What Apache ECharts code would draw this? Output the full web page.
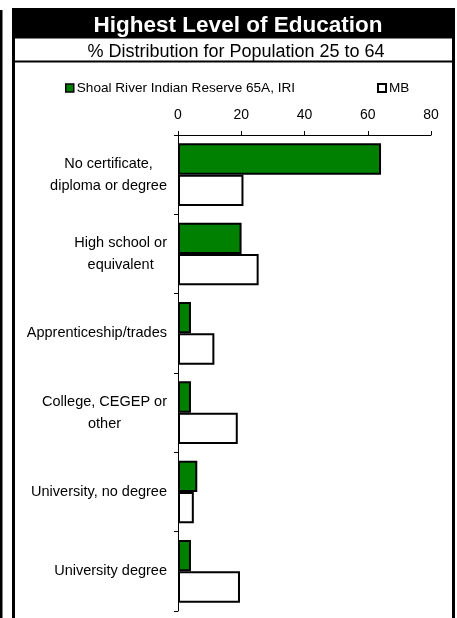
<!DOCTYPE html>
<html>
<head>
<meta charset="utf-8">
<script src="https://cdn.jsdelivr.net/npm/echarts@6/dist/echarts.min.js"></script>
<style>
html,body{margin:0;padding:0;background:#fff;}
#chart{width:457px;height:618px;}
</style>
</head>
<body>
<div id="chart"></div>
<script>
const categories = [
  "No certificate,\ndiploma or degree",
  "High school or\nequivalent",
  "Apprenticeship/trades",
  "College, CEGEP or\nother",
  "University, no degree",
  "University degree"
];
const reserveValues = [64.2, 20.1, 4.1, 4.1, 6.1, 4.1];
const mbValues = [20.7, 25.5, 11.5, 18.9, 5.0, 19.6];
const xTicks = [0, 20, 40, 60, 80];
const seriesNames = ["Shoal River Indian Reserve 65A, IRI", "MB"];
const titleText = "Highest Level of Education";
const subtitleText = "% Distribution for Population 25 to 64";

const FONT = "Liberation Sans, Arial, sans-serif";
const chart = echarts.init(document.getElementById('chart'), null, {renderer: 'canvas'});

const option = {
  backgroundColor: '#fff',
  animation: false,
  title: [
    {text: titleText, left: 233, top: 9, textAlign: 'center',
     textStyle: {color: '#fff', fontFamily: FONT, fontWeight: 'bold', fontSize: 22.5}},
    {text: subtitleText, left: 231, top: 38, textAlign: 'center',
     textStyle: {color: '#000', fontFamily: FONT, fontWeight: 'normal', fontSize: 18}}
  ],
  graphic: [
    {type: 'rect', z: -1, shape: {x: 0, y: 10, width: 2.5, height: 610}, style: {fill: '#000'}},
    {type: 'rect', z: -1, shape: {x: 12, y: 8, width: 443, height: 30.5}, style: {fill: '#000'}},
    {type: 'rect', z: -1, shape: {x: 12, y: 38, width: 3, height: 585}, style: {fill: '#000'}},
    {type: 'rect', z: -1, shape: {x: 452, y: 38, width: 3, height: 585}, style: {fill: '#000'}},
    {type: 'rect', z: -1, shape: {x: 12, y: 60.5, width: 443, height: 2}, style: {fill: '#000'}}
  ],
  legend: [
    {data: [seriesNames[0]], left: 60, top: 76, itemWidth: 8, itemHeight: 8, icon: 'rect',
     itemGap: 4, textStyle: {fontFamily: FONT, fontSize: 13.6, color: '#000', padding: [0,0,0,-2]},
     itemStyle: {borderColor: '#000', borderWidth: 1.5}},
    {data: [seriesNames[1]], left: 372, top: 76, itemWidth: 8, itemHeight: 8, icon: 'rect',
     itemGap: 4, textStyle: {fontFamily: FONT, fontSize: 13.6, color: '#000', padding: [0,0,0,-2]},
     itemStyle: {borderColor: '#000', borderWidth: 2}}
  ],
  grid: {left: 178, right: 26, top: 135, bottom: 7, containLabel: false},
  xAxis: {
    type: 'value', position: 'top', min: 0, max: 80, interval: 20,
    axisLine: {show: true, lineStyle: {color: '#000', width: 1}},
    axisTick: {show: true, length: 4, inside: false, lineStyle: {color: '#000'}},
    splitLine: {show: false},
    axisLabel: {fontFamily: FONT, fontSize: 14, color: '#000', margin: 13,
      formatter: v => xTicks.includes(v) ? String(v) : ''}
  },
  yAxis: {
    type: 'category', data: categories, inverse: true,
    axisLine: {show: true, lineStyle: {color: '#000', width: 1}},
    axisTick: {show: true, length: 4, lineStyle: {color: '#000'}},
    splitLine: {show: false},
    axisLabel: {
      fontFamily: FONT, fontSize: 14.5, color: '#000', margin: 11, lineHeight: 22,
      formatter: v => v.split('\n').map(s => '{c|' + s + '}').join('\n'),
      rich: {c: {align: 'center', fontFamily: FONT, fontSize: 14.5, color: '#000', lineHeight: 22}}
    }
  },
  series: [
    {name: seriesNames[0], type: 'bar', data: reserveValues, barGap: '0%', barCategoryGap: '21%',
     itemStyle: {color: '#008000', borderColor: '#000', borderWidth: 2}},
    {name: seriesNames[1], type: 'bar', data: mbValues, barGap: '0%', barCategoryGap: '21%',
     itemStyle: {color: '#fff', borderColor: '#000', borderWidth: 2}}
  ]
};
chart.setOption(option);
</script>
</body>
</html>
